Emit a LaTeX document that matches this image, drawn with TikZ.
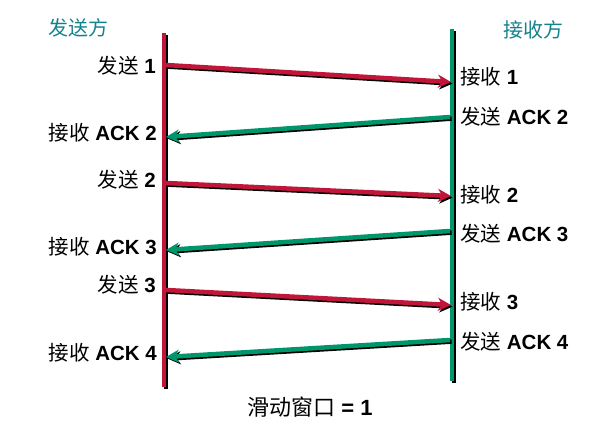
\documentclass[tikz,border=0pt]{standalone}
\usepackage{fontspec}
\setmainfont{Liberation Sans}
\newfontfamily\cjk{Noto Sans CJK SC}
\usetikzlibrary{arrows.meta}
\usetikzlibrary{positioning}
\definecolor{sendred}{RGB}{192,22,58}
\definecolor{ackgreen}{RGB}{0,150,108}
\definecolor{sideteal}{RGB}{20,130,140}
\newcommand{\zh}[1]{{\cjk\mdseries #1}}

\begin{document}
\begin{tikzpicture}[x=1pt,y=-1pt,
    every node/.style={font=\fontsize{20.5}{24}\selectfont\bfseries, inner sep=0pt},
    side/.style={font=\fontsize{20}{24}\selectfont\cjk\mdseries, text=sideteal},
    shadowed/.style={line width=#1, preaction={draw=black, line width=#1,
      transform canvas={shift={(1.6pt,-1.6pt)}}}},
    msg/.style={shadowed=4.5pt, -{Stealth[length=13pt,width=13pt,inset=4pt]}}]
  \useasboundingbox (0,0) rectangle (604,430);
  \node[side] (sender) at (78,28) {发送方};
  \node[side] (receiver) at (533,30) {接收方};
  \coordinate (s top) at (164,33);
  \coordinate (s bot) at (164,387);
  \coordinate (r top) at (452,29);
  \coordinate (r bot) at (452,381);
  \draw[shadowed=4pt, sendred] (s top) -- (s bot);
  \draw[shadowed=4pt, ackgreen] (r top) -- (r bot);
  \foreach \n/\ys/\yr in {1/65/82, 2/183/196, 3/290/305} {
    \coordinate (send\n) at (166,\ys);
    \coordinate (recv\n) at (451,\yr);
    \draw[msg, sendred] (send\n) -- (recv\n);
  }
  \foreach \n/\yr/\ys in {2/117/137, 3/231/250, 4/340/357} {
    \coordinate (ack\n) at (450,\yr);
    \coordinate (got\n) at (166,\ys);
    \draw[msg, ackgreen] (ack\n) -- (got\n);
  }
  \node[anchor=east] (sent1) at (156,66) {\zh{发送} 1};
  \node[anchor=east] (gotack2) at (157,133) {\zh{接收} ACK 2};
  \node[anchor=east] (sent2) at (156,180) {\zh{发送} 2};
  \node[anchor=east] (gotack3) at (157,247) {\zh{接收} ACK 3};
  \node[anchor=east] (sent3) at (156,285) {\zh{发送} 3};
  \node[anchor=east] (gotack4) at (157,353) {\zh{接收} ACK 4};
  \node[anchor=west] (recvd1) at (460,77) {\zh{接收} 1};
  \node[anchor=west] (sentack2) at (460,117) {\zh{发送} ACK 2};
  \node[anchor=west] (recvd2) at (460,195) {\zh{接收} 2};
  \node[anchor=west] (sentack3) at (460,234) {\zh{发送} ACK 3};
  \node[anchor=west] (recvd3) at (460,302) {\zh{接收} 3};
  \node[anchor=west] (sentack4) at (460,342) {\zh{发送} ACK 4};
  \node[font=\fontsize{22}{26}\selectfont\bfseries] (window) at (310,407) {\zh{滑动窗口} = 1};
\end{tikzpicture}
\end{document}
